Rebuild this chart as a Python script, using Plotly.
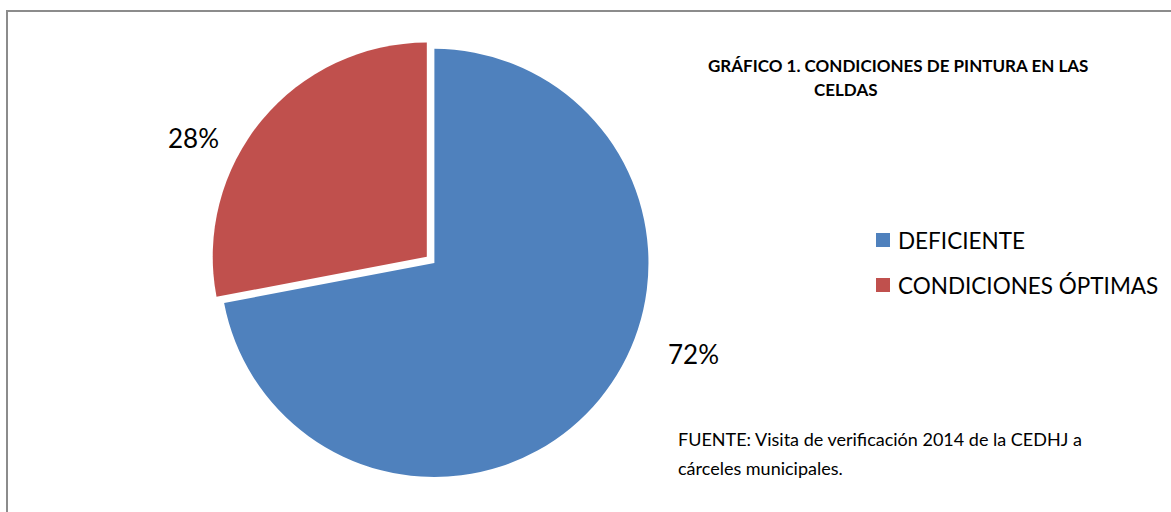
import plotly.graph_objects as go

# Data
categories = ["DEFICIENTE", "CONDICIONES ÓPTIMAS"]
values = [72, 28]
colors = ["#4F81BD", "#C0504D"]
title_lines = ["GRÁFICO 1. CONDICIONES DE PINTURA EN LAS", "CELDAS"]
source_lines = ["FUENTE: Visita de verificación 2014 de la CEDHJ a", "cárceles municipales."]

W, H = 1171, 512
FONT = "Lato, Carlito, Calibri, sans-serif"


def px(x):
    return x / W


def py(y):
    return 1 - y / H


fig = go.Figure(
    go.Pie(
        labels=categories,
        values=values,
        marker=dict(colors=colors, line=dict(color="white", width=0)),
        sort=False,
        direction="clockwise",
        rotation=0,
        pull=[0.023, 0.023],
        textinfo="none",
        hoverinfo="label+percent",
        showlegend=False,
        domain=dict(x=[px(211.6), px(649.6)], y=[py(478.8), py(40.8)]),
    )
)

annotations = []

# Percentage labels next to each slice
total = sum(values)
label_pos = [(693, 354), (193, 138)]
for v, (lx, ly) in zip(values, label_pos):
    annotations.append(dict(
        x=px(lx), y=py(ly), xref="paper", yref="paper",
        text=f"{round(100 * v / total)}%", showarrow=False,
        font=dict(family=FONT, size=26, color="#000000"),
        xanchor="center", yanchor="middle",
    ))

# Title (two lines)
annotations.append(dict(
    x=px(898), y=py(65), xref="paper", yref="paper", text=f"<b>{title_lines[0]}</b>",
    showarrow=False, font=dict(family=FONT, size=17, color="#000000"),
    xanchor="center", yanchor="middle",
))
annotations.append(dict(
    x=px(812), y=py(89), xref="paper", yref="paper", text=f"<b>{title_lines[1]}</b>",
    showarrow=False, font=dict(family=FONT, size=17, color="#000000"),
    xanchor="left", yanchor="middle",
))

# Legend built from swatches and labels
shapes = []
legend_y = [240, 285]
for cat, col, ly in zip(categories, colors, legend_y):
    shapes.append(dict(
        type="rect", xref="paper", yref="paper",
        x0=px(876), x1=px(890), y0=py(ly + 7), y1=py(ly - 7),
        fillcolor=col, line=dict(width=0),
    ))
    annotations.append(dict(
        x=px(896), y=py(ly), xref="paper", yref="paper", text=cat,
        showarrow=False, font=dict(family=FONT, size=22.5, color="#000000"),
        xanchor="left", yanchor="middle",
    ))

# Source note
for line, ly in zip(source_lines, [439, 468]):
    annotations.append(dict(
        x=px(676), y=py(ly), xref="paper", yref="paper", text=line,
        showarrow=False, font=dict(family=FONT, size=18, color="#000000"),
        xanchor="left", yanchor="middle",
    ))

# Chart frame
shapes.append(dict(
    type="rect", xref="paper", yref="paper",
    x0=px(7), x1=px(W + 20), y0=py(H + 20), y1=py(11),
    line=dict(color="#8C8C8C", width=2), fillcolor="rgba(0,0,0,0)",
))

fig.update_layout(
    width=W, height=H,
    margin=dict(l=0, r=0, t=0, b=0),
    paper_bgcolor="white",
    plot_bgcolor="white",
    annotations=annotations,
    shapes=shapes,
)

fig.write_html("out.html")
